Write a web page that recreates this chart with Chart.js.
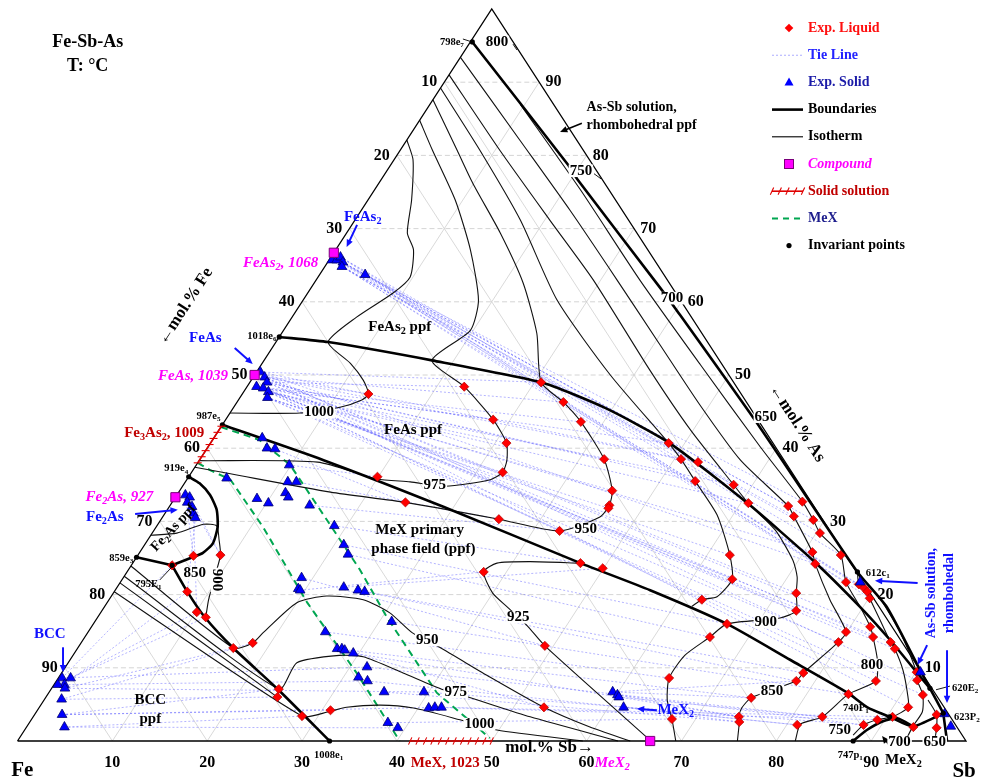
<!DOCTYPE html>
<html>
<head>
<meta charset="utf-8">
<title>Fe-Sb-As liquidus projection</title>
<script src="https://cdn.jsdelivr.net/npm/chart.js@4.4.1/dist/chart.umd.min.js"></script>
<style>
html,body{margin:0;padding:0;background:#ffffff;}
canvas{display:block;}
</style>
</head>
<body>
<canvas id="chart" width="982" height="782"></canvas>
<script>
// Every composition is [Sb, As] in mol.%; Fe is the balance.

const gridTicks = [10, 20, 30, 40, 50, 60, 70, 80, 90];

const expLiquid = [
  [4.3,24.0],[7.7,20.4],[10.1,17.6],[11.4,16.9],[16.4,12.7],[18.1,13.4],[24.0,7.1],[24.4,6.0],[28.3,3.4],[30.9,4.2],
  [5.9,25.3],[8.7,25.4],[19.9,36.1],[32.8,36.7],[24.6,32.6],[35.6,30.3],[42.8,28.7],[47.2,24.3],[49.9,23.6],[37.6,23.1],
  [45.6,34.2],[46.3,32.2],[46.4,31.8],[49.1,13.0],[53.2,4.6],[13.3,47.4],[22.9,48.4],[28.2,43.9],[31.2,40.7],[30.7,49.0],
  [34.4,46.3],[37.6,43.6],[42.6,38.5],[48.3,40.7],[50.7,38.5],[52.7,38.1],[53.7,35.5],[58.0,35.0],[60.8,32.5],[65.2,32.1],
  [66.5,30.7],[66.4,32.7],[68.8,30.2],[70.4,28.4],[70.9,25.8],[72.0,24.2],[74.1,25.4],[76.5,21.7],[78.0,21.4],[78.8,20.9],
  [79.4,20.4],[80.1,19.5],[62.4,25.4],[64.3,22.1],[62.5,19.3],[72.0,20.2],[73.2,17.8],[82.1,15.6],[83.1,14.2],[85.3,13.5],
  [86.2,12.6],[79.9,14.9],[79.8,13.5],[90.1,9.4],[90.7,8.3],[92.3,6.3],[86.4,8.2],[84.4,6.4],[91.6,4.6],[90.6,3.3],
  [89.2,2.9],[88.1,2.2],[83.2,3.3],[81.1,2.2],[78.2,9.3],[78.0,8.2],[74.4,5.9],[74.4,3.3],[74.8,2.6],[67.5,3.0],
  [64.4,8.6],[66.8,16.0],[65.9,14.2],[93.5,1.9],[95.1,3.6],[96.0,1.8]
];

const expSolid = [
  [0.3,65.7],[0.8,65.7],[1.0,66.1],[1.6,65.4],[1.8,64.8],[4.8,63.7],
  [0.4,50.4],[1.2,49.7],[1.0,48.4],[1.8,49.0],[1.8,48.2],[2.6,47.7],[2.9,46.9],
  [0.9,33.6],[1.5,33.3],[1.6,32.6],[2.4,32.0],[3.0,31.1],[3.5,30.5],
  [5.1,41.4],[6.3,40.0],[7.2,39.9],[9.8,37.7],[10.8,35.4],[11.7,35.4],[4.1,35.9],[8.7,33.1],[10.2,32.5],[11.3,33.9],
  [11.9,33.3],[14.7,32.2],[18.7,29.4],[21.0,26.8],[22.1,25.5],[18.8,22.3],[19.2,20.8],[19.5,20.6],[23.9,21.0],[25.6,20.6],
  [26.4,20.4],[31.3,16.3],[25.0,14.9],[27.4,12.6],[27.9,12.6],[28.3,12.4],[29.4,12.0],[31.8,10.1],[31.6,8.7],[32.8,8.2],
  [35.3,6.7],[39.5,6.7],[41.1,4.5],[41.7,4.6],[42.4,4.6],[37.8,2.5],[39.2,1.8],
  [59.4,6.7],[60.1,6.3],[60.4,6.0],[61.6,4.6],
  [0.4,8.6],[1.1,7.7],[0.4,7.7],[1.3,8.6],[1.4,7.2],[1.8,5.7],[2.9,3.6],[4.0,1.9],
  [78.0,21.7],[90.5,9.4],[95.9,3.7],[97.4,2.0]
];

// FeAs2, FeAs, Fe2As, MeX2 (FeSb2)
const compounds = [[0, 66.7], [0, 50.0], [0, 33.3], [66.7, 0]];

// e7, e6, e5, e4, e3, E1, e1, c1, E2, P2, P1, p1
const invariantPoints = [
  [0.2,95.5],[0,55.2],[0,43.2],[0,36.1],[0,25.1],[4.3,24.0],[32.9,0],[77.0,23.1],[92.6,7.2],[95.7,3.8],[90.3,3.3],[88.1,0]
];

// Fe3As2 and MeX homogeneity ranges
const solidSolutions = [[[0, 38.0], [0, 43.0]], [[41.4, 0], [50.0, 0]]];

const boundaries = [
  [[0.2,95.5],[18.6,78.8],[20.8,76.6],[36.7,62.0],[39.7,59.2],[56.9,42.8],[77.0,23.1],[82.5,18.3],[90.3,9.7],[92.6,7.2],[95.7,3.8]],
  [[0,55.2],[5.5,54.5],[17.7,52.0],[30.7,49.0],[39.2,45.5],[48.4,40.7],[60.7,32.5],[71.5,24.7],[79.7,18.3],[85.1,13.8],[90.2,9.3],[92.6,7.2]],
  [[0,43.2],[13.0,38.4],[28.9,32.0],[47.2,24.3],[56.4,20.6],[66.8,16.0],[75.9,11.1],[84.2,6.6],[87.3,4.6],[90.3,3.3],[93.4,2.0],[95.7,3.8]],
  [[0,36.1],[1.6,35.2],[3.5,33.6],[5.2,31.6],[6.5,29.2],[7.1,27.0],[6.7,25.7],[5.9,25.1],[4.3,24.0]],
  [[4.3,24.0],[7.7,20.4],[11.3,16.9],[16.4,12.7],[24.0,7.0],[32.9,0]],
  [[0,25.1],[4.3,24.0]],
  [[88.1,0],[88.8,1.5],[89.9,2.7],[91.2,3.1],[93.4,2.0]],
  [[95.7,3.8],[98.0,0]]
];

const isotherms = [
  [[0,44.8],[7.4,44.8],[11.2,45.6],[13.0,46.6],[13.3,47.4],[11.8,49.3],[9.3,51.6],[5.5,54.5],[6.8,57.9],[9.0,61.2],[9.7,63.4],[8.2,67.1],[6.4,69.4],[4.6,73.9],[2.0,79.4],[0,82.1]],
  [[0,84.8],[3.4,80.7],[9.2,73.9],[14.2,67.1],[18.5,60.2],[19.7,56.1],[17.7,52.0],[22.9,48.4],[28.2,43.9],[31.2,40.7],[32.4,38.4],[32.8,36.7],[32.0,35.7],[27.7,34.8],[23.7,35.4],[20.0,35.8],[12.6,38.1],[0,38.3]],
  [[0,87.6],[6.0,80.7],[9.9,76.2],[16.2,69.4],[22.0,62.6],[26.9,55.7],[30.7,49.0],[34.4,46.3],[37.6,43.6],[42.6,38.5],[45.6,34.2],[46.3,32.2],[46.1,30.6],[42.8,28.7],[35.6,30.3],[24.6,32.6],[16.0,34.0],[4.2,36.5],[0,37.4]],
  [[0,89.2],[8.4,80.7],[17.4,71.2],[26.8,60.2],[37.5,50.0],[48.3,40.7],[50.7,38.5],[53.7,35.5],[58.3,30.9],[62.4,25.4],[64.3,22.1],[63.9,19.7],[62.5,19.3],[61.9,18.4]],
  [[0,91.0],[10.5,80.7],[20.5,71.2],[29.2,63.0],[41.3,50.7],[49.7,42.5],[58.0,35.0],[60.8,32.5],[65.5,28.8],[69.4,24.7],[71.0,22.4],[72.0,20.2],[73.2,17.8],[72.0,16.8],[66.8,16.0],[65.9,14.2],[64.5,11.7],[64.4,8.6],[65.7,5.6],[67.5,3.0],[69.4,0]],
  [[0,93.4],[11.9,82.1],[22.0,72.5],[31.7,63.0],[40.7,54.1],[49.0,45.9],[57.0,38.4],[65.2,32.1],[66.5,30.7],[70.9,25.8],[72.0,24.2],[76.0,19.3],[79.9,14.9],[79.8,13.5],[78.2,9.3],[78.0,8.2],[74.4,5.9],[74.1,4.5],[74.4,3.3],[74.8,2.6],[75.9,0]],
  [[9.6,86.9],[21.7,75.3],[34.1,63.0],[46.3,51.4],[58.2,40.2],[66.4,32.7],[68.8,30.2],[70.4,28.4],[74.1,25.4],[76.5,21.7],[79.7,18.3],[82.1,15.6],[83.1,14.2],[85.1,11.1],[86.4,8.2],[84.4,6.4],[83.2,3.3],[81.4,2.3],[82.0,0]],
  [[0,23.9],[16.4,12.7],[18.1,13.4],[18.5,14.8],[20.0,18.9],[22.7,19.8],[26.8,19.3],[30.5,17.5],[34.2,14.8],[38.1,12.8],[45.5,8.7],[53.2,4.6],[59.4,1.9],[64.6,0]],
  [[0,22.5],[24.0,7.1],[24.1,10.7],[28.1,11.7],[30.7,11.5],[36.0,9.3],[41.4,7.0],[44.8,5.9],[52.4,3.3],[63.3,0]],
  [[0,21.6],[24.4,6.0]],
  [[0,20.4],[28.3,3.4],[30.8,4.0],[32.4,4.6],[35.8,4.9],[39.5,4.5],[45.2,2.9],[49.8,1.5],[59.6,0]],
  [[47.2,24.3],[41.8,24.5],[38.4,24.3],[37.6,23.1],[40.0,20.2],[42.5,18.3],[45.8,15.8],[49.1,13.0],[66.1,0.5]],
  [[0,28.1],[2.6,28.4],[4.8,29.6],[6.3,29.4],[7.5,27.5],[8.7,25.4],[9.5,22.7],[10.5,19.3],[11.4,16.9]],
  [[77.0,23.1],[78.0,21.4],[78.8,20.9],[79.4,20.4],[80.1,19.5],[82.7,16.5],[85.3,13.5],[86.2,12.6],[88.5,9.7],[90.7,6.3],[91.6,4.6],[90.6,3.3],[89.2,2.9],[88.1,2.2],[87.7,0.8]],
  [[81.2,19.5],[85.6,14.9],[90.1,9.4],[90.7,8.3],[92.3,6.3],[93.4,4.0],[93.4,2.0],[93.6,0]],
  [[93.2,5.6],[95.1,3.6],[96.0,1.8],[96.7,0]]
];

// limits of the MeX phase
const mexLimits = [
  [[0,42.9],[5.0,41.1],[9.9,37.7],[16.1,31.6],[24.4,23.4],[30.5,16.9],[40.9,6.6],[49.6,0.4]],
  [[0,38.0],[1.8,37.0],[4.6,35.7],[11.3,29.2],[21.1,18.9],[31.1,9.3],[40.3,0]]
];

const tieLines = [
  // FeAs2 + L
  [[0.8,65.7],[66.4,32.7]],[[1.6,65.4],[68.8,30.2]],[[1.8,64.8],[70.4,28.4]],[[1.0,66.1],[74.1,25.4]],
  [[1.6,65.4],[76.5,21.7]],[[0.8,65.7],[78.0,21.4]],[[1.8,64.8],[78.8,20.9]],[[4.8,63.7],[79.4,20.4]],
  [[1.0,66.1],[80.1,19.5]],[[1.6,65.4],[65.2,32.1]],[[1.8,64.8],[66.5,30.7]],[[0.3,65.7],[72.0,24.2]],
  [[0.3,65.7],[30.7,49.0]],[[1.0,66.1],[48.3,40.7]],[[0.8,65.7],[52.7,38.1]],[[1.6,65.4],[58.0,35.0]],
  [[4.8,63.7],[60.8,32.5]],
  // FeAs + L
  [[1.2,49.7],[13.3,47.4]],[[1.8,49.0],[22.9,48.4]],[[1.8,48.2],[28.2,43.9]],[[2.6,47.7],[31.2,40.7]],
  [[2.9,46.9],[32.8,36.7]],[[0.4,50.4],[30.7,49.0]],[[1.2,49.7],[34.4,46.3]],[[1.0,48.4],[37.6,43.6]],
  [[1.8,49.0],[42.6,38.5]],[[2.6,47.7],[45.6,34.2]],[[2.9,46.9],[46.4,31.8]],[[1.8,48.2],[48.3,40.7]],
  [[1.2,49.7],[50.7,38.5]],[[0.4,50.4],[52.7,38.1]],[[1.8,49.0],[53.7,35.5]],[[1.0,48.4],[58.0,35.0]],
  [[2.6,47.7],[60.8,32.5]],[[2.9,46.9],[62.4,25.4]],[[1.8,48.2],[64.3,22.1]],[[2.6,47.7],[62.5,19.3]],
  [[1.2,49.7],[72.0,20.2]],[[1.8,49.0],[73.2,17.8]],[[1.0,48.4],[70.9,25.8]],[[0.4,50.4],[72.0,24.2]],
  [[1.8,48.2],[79.9,14.9]],[[2.9,46.9],[79.8,13.5]],[[1.2,49.7],[82.1,15.6]],[[1.8,49.0],[83.1,14.2]],
  [[2.6,47.7],[86.4,8.2]],[[1.0,48.4],[85.3,13.5]],[[1.8,48.2],[86.2,12.6]],[[0.4,50.4],[90.7,8.3]],
  [[2.9,46.9],[92.3,6.3]],[[1.2,49.7],[91.6,4.6]],
  // MeX + L
  [[9.8,37.7],[19.9,36.1]],[[7.2,39.9],[24.6,32.6]],[[11.7,35.4],[35.6,30.3]],[[14.7,32.2],[42.8,28.7]],
  [[18.7,29.4],[47.2,24.3]],[[21.0,26.8],[66.8,16.0]],[[22.1,25.5],[65.9,14.2]],[[25.0,14.9],[64.4,8.6]],
  [[25.6,20.6],[78.2,9.3]],[[26.4,20.4],[78.0,8.2]],[[31.3,16.3],[84.4,6.4]],[[18.8,22.3],[49.1,13.0]],
  [[19.5,20.6],[37.6,23.1]],[[27.4,12.6],[74.4,5.9]],[[28.3,12.4],[53.2,4.6]],[[29.4,12.0],[74.4,3.3]],
  [[31.8,10.1],[83.2,3.3]],[[32.8,8.2],[81.1,2.2]],[[35.3,6.7],[74.8,2.6]],[[39.5,6.7],[88.1,2.2]],
  [[41.7,4.6],[89.2,2.9]],[[42.4,4.6],[90.6,3.3]],[[37.8,2.5],[67.5,3.0]],[[23.9,21.0],[49.9,23.6]],
  // BCC + L, BCC + MeX
  [[0.4,8.6],[4.3,24.0]],[[1.1,7.7],[7.7,20.4]],[[0.4,7.7],[10.1,17.6]],[[1.3,8.6],[11.4,16.9]],
  [[1.4,7.2],[16.4,12.7]],[[1.8,5.7],[18.1,13.4]],[[2.9,3.6],[24.0,7.1]],[[1.8,5.7],[24.4,6.0]],
  [[4.0,1.9],[28.3,3.4]],[[2.9,3.6],[30.9,4.2]],[[1.4,7.2],[39.5,6.7]],[[4.0,1.9],[39.2,1.8]],
  [[2.9,3.6],[42.4,4.6]],[[1.1,7.7],[32.8,8.2]],[[0.4,8.6],[31.8,10.1]],
  // Fe2As + L
  [[0.9,33.6],[5.9,25.3]],[[1.5,33.3],[8.7,25.4]],[[2.4,32.0],[8.7,25.4]],[[3.0,31.1],[10.1,17.6]],[[3.5,30.5],[7.7,20.4]],
  // MeX2 + L
  [[59.4,6.7],[74.4,5.9]],[[60.1,6.3],[74.4,3.3]],[[60.4,6.0],[83.2,3.3]],[[61.6,4.6],[81.1,2.2]],
  [[60.1,6.3],[88.1,2.2]],[[59.4,6.7],[78.0,8.2]],[[61.6,4.6],[74.8,2.6]]
];

// ternary composition -> plane (x = Sb + As/2, y = As)
const toPlane = ([sb, as]) => ({ x: sb + as / 2, y: as });

const SERIF = "'Liberation Serif','Times New Roman',serif";
const MAG = '#ff00ff', BLUE = '#1010ff', DRED = '#c00000';

// text annotations, positioned in plane units (u along the Fe-Sb side, a = As)
const annotations = [
  {t:'Fe-Sb-As', u:7.4, a:95.5, s:18},
  {t:'T: °C', u:7.4, a:92.2, s:18},
  {t:'Fe', u:0.5, a:-4.0, s:21},
  {t:'Sb', u:99.8, a:-4.2, s:21},
  {t:'mol.% Sb→', u:56.1, a:-0.9, s:17},
  {t:'←mol.% Fe', u:17.7, a:59.4, s:17, r:-57},
  {t:'←mol.% As', u:82.2, a:43.4, s:17, r:57},
  {t:'As-Sb solution,', u:60.0, a:86.6, s:14, al:'left'},
  {t:'rhombohedral ppf', u:60.0, a:84.1, s:14, al:'left'},
  {t:'FeAs_2 ppf', u:40.3, a:56.6, s:15},
  {t:'FeAs ppf', u:41.7, a:42.5, s:15},
  {t:'MeX primary', u:42.4, a:28.8, s:15},
  {t:'phase field (ppf)', u:42.8, a:26.2, s:15},
  {t:'BCC', u:14.0, a:5.6, s:15},
  {t:'ppf', u:14.0, a:3.0, s:15},
  {t:'Fe_2As ppf', u:16.45, a:29.1, s:14, r:-47},
  {t:'FeAs_2, 1068', u:31.7, a:65.3, s:15, al:'right', c:MAG, it:true},
  {t:'FeAs, 1039', u:22.2, a:49.9, s:15, al:'right', c:MAG, it:true},
  {t:'Fe_2As, 927', u:14.3, a:33.3, s:15, al:'right', c:MAG, it:true},
  {t:'MeX_2', u:62.7, a:-3.0, s:15, c:MAG, it:true},
  {t:'Fe_3As_2, 1009', u:19.7, a:42.1, s:15, al:'right', c:DRED},
  {t:'MeX, 1023', u:45.1, a:-3.0, s:15, c:DRED},
  {t:'FeAs_2', u:36.4, a:71.6, s:15, c:BLUE},
  {t:'FeAs', u:19.8, a:55.05, s:15, c:BLUE},
  {t:'Fe_2As', u:9.2, a:30.6, s:15, c:BLUE},
  {t:'BCC', u:3.4, a:14.6, s:15, c:BLUE},
  {t:'MeX_2', u:69.4, a:4.2, s:15, c:BLUE},
  {t:'As-Sb solution,', u:96.4, a:20.2, s:14, r:-90, c:BLUE},
  {t:'rhombohedal', u:98.3, a:20.2, s:14, r:-90, c:BLUE},
  {t:'798e_7', u:45.8, a:95.5, s:10.5},
  {t:'1018e_6', u:27.3, a:55.3, s:10.5, al:'right'},
  {t:'987e_5', u:21.4, a:44.4, s:10.5, al:'right'},
  {t:'919e_4', u:18.0, a:37.2, s:10.5, al:'right'},
  {t:'859e_3', u:12.2, a:25.0, s:10.5, al:'right'},
  {t:'795E_1', u:13.8, a:21.45, s:10.5},
  {t:'1008e_1', u:32.8, a:-1.9, s:10.5},
  {t:'612c_1', u:90.7, a:22.95, s:10.5},
  {t:'620E_2', u:99.9, a:7.2, s:10.5},
  {t:'623P_2', u:100.1, a:3.3, s:10.5},
  {t:'740P_1', u:88.4, a:4.5, s:10.5},
  {t:'747p_1', u:87.8, a:-1.9, s:10.5},
  {t:'MeX_2', u:93.4, a:-2.6, s:15},
  {t:'800', u:50.55, a:95.5, s:15, bg:true},
  {t:'750', u:59.4, a:77.9, s:15, bg:true},
  {t:'700', u:69.0, a:60.5, s:15, bg:true},
  {t:'650', u:78.9, a:44.3, s:15, bg:true},
  {t:'1000', u:31.8, a:44.9, s:15, bg:true},
  {t:'975', u:44.0, a:35.0, s:15, bg:true},
  {t:'950', u:59.9, a:29.0, s:15, bg:true},
  {t:'925', u:52.8, a:16.9, s:15, bg:true},
  {t:'950', u:43.2, a:13.8, s:15, bg:true},
  {t:'975', u:46.2, a:6.7, s:15, bg:true},
  {t:'1000', u:48.7, a:2.3, s:15, bg:true},
  {t:'900', u:78.9, a:16.3, s:15, bg:true},
  {t:'850', u:79.55, a:6.8, s:15, bg:true},
  {t:'800', u:90.1, a:10.4, s:15, bg:true},
  {t:'750', u:86.7, a:1.5, s:15, bg:true},
  {t:'700', u:93.0, a:-0.15, s:15, bg:true},
  {t:'650', u:96.7, a:-0.15, s:15, bg:true},
  {t:'850', u:18.7, a:22.95, s:15, bg:true},
  {t:'900', u:21.0, a:22.0, s:15, r:90, bg:true}
];

const leaders = [
  [[46.96,95.9],[47.92,95.5]], [[52.24,95.2],[52.66,94.4]], [[60.78,77.5],[61.52,76.8]],
  [[90.09,4.2],[91.36,3.7]], [[98.31,7.5],[96.84,7.0]], [[15.0,22.0],[16.3,23.8]]
];

const arrows = [
  {from:[59.5,84.4], to:[57.2,83.2], c:'#000', w:1.6},
  {from:[35.8,70.5], to:[34.7,67.5], c:BLUE, w:2},
  {from:[22.9,53.7], to:[24.8,51.5], c:BLUE, w:2},
  {from:[12.4,31.0], to:[16.9,31.6], c:BLUE, w:2},
  {from:[4.8,12.8], to:[4.8,9.4], c:BLUE, w:2},
  {from:[67.4,4.2], to:[65.3,4.4], c:BLUE, w:2},
  {from:[94.9,21.6], to:[90.4,21.9], c:BLUE, w:2},
  {from:[95.9,13.1], to:[94.9,10.4], c:BLUE, w:2},
  {from:[98.0,12.4], to:[98.0,5.2], c:BLUE, w:2},
  {from:[91.9,-0.55], to:[91.15,0.7], c:'#000', w:1.6}
];

// hatch stroke angle (degrees, screen space) for each solid-solution range
const hatchAngles = [0, -65];

// ---------- datasets ----------
function lineSet(pts, color, width, dash, tension, order) {
  return {
    data: pts.map(toPlane), showLine: true, pointRadius: 0, pointHoverRadius: 0,
    borderColor: color, backgroundColor: color, borderWidth: width, borderDash: dash,
    tension: tension, fill: false, clip: false, order: order
  };
}

const datasets = [];

// composition grid
gridTicks.forEach(v => {
  datasets.push(lineSet([[0, v], [100 - v, v]], '#c9c9c9', 0.8, [5, 3], 0, 20));
  datasets.push(lineSet([[v, 0], [v, 100 - v]], '#cfcfcf', 0.8, [], 0, 20));
  datasets.push(lineSet([[100 - v, 0], [0, 100 - v]], '#cfcfcf', 0.8, [], 0, 20));
});

tieLines.forEach(tl => datasets.push(lineSet(tl, 'rgba(85,85,255,0.55)', 0.8, [2, 2], 0, 18)));
mexLimits.forEach(l => datasets.push(lineSet(l, '#00a651', 2, [7, 5], 0, 16)));
isotherms.forEach(l => datasets.push(lineSet(l, '#111', 1.1, [], 0.22, 14)));
boundaries.forEach(l => datasets.push(lineSet(l, '#000', 2.6, [], 0.2, 12)));
datasets.push(lineSet([[0, 0], [100, 0], [0, 100], [0, 0]], '#000', 1.3, [], 0, 11));

datasets.push({
  data: expLiquid.map(toPlane), pointStyle: 'rectRot', pointRadius: 4.6,
  backgroundColor: '#ff0000', borderColor: '#b00000', borderWidth: 0.7, clip: false, order: 4
});
datasets.push({
  data: expSolid.map(toPlane), pointStyle: 'triangle', pointRadius: 5.6,
  backgroundColor: '#0000ff', borderColor: '#000070', borderWidth: 0.8, clip: false, order: 3
});
datasets.push({
  data: compounds.map(toPlane), pointStyle: 'rect', pointRadius: 6.5,
  backgroundColor: '#ff00ff', borderColor: '#7a007a', borderWidth: 1, clip: false, order: 2
});
datasets.push({
  data: invariantPoints.map(toPlane), pointStyle: 'circle', pointRadius: 2.6,
  backgroundColor: '#000', borderColor: '#000', borderWidth: 0, clip: false, order: 1
});

// ---------- drawing helpers ----------
function parseRich(t) {
  const parts = []; let buf = '';
  for (let i = 0; i < t.length; i++) {
    if (t[i] === '_' && i + 1 < t.length) {
      if (buf) parts.push({ s: buf, sub: false });
      buf = ''; parts.push({ s: t[i + 1], sub: true }); i++;
    } else buf += t[i];
  }
  if (buf) parts.push({ s: buf, sub: false });
  return parts;
}

function drawRich(ctx, o, x, y) {
  const size = o.s || 15;
  const style = (o.it ? 'italic ' : '') + 'bold ';
  const font = sz => style + sz + 'px ' + SERIF;
  const parts = parseRich(o.t);
  let w = 0;
  parts.forEach(p => { ctx.font = font(p.sub ? size * 0.68 : size); p.w = ctx.measureText(p.s).width; w += p.w; });
  ctx.save();
  ctx.translate(x, y);
  if (o.r) ctx.rotate(o.r * Math.PI / 180);
  let x0 = o.al === 'left' ? 0 : o.al === 'right' ? -w : -w / 2;
  ctx.textBaseline = 'middle';
  ctx.textAlign = 'left';
  if (o.bg) { ctx.fillStyle = '#ffffff'; ctx.fillRect(x0 - 1, -size * 0.42, w + 2, size * 0.84); }
  ctx.fillStyle = o.c || '#000';
  parts.forEach(p => {
    ctx.font = font(p.sub ? size * 0.68 : size);
    ctx.fillText(p.s, x0, p.sub ? size * 0.3 : 0);
    x0 += p.w;
  });
  ctx.restore();
}

function drawArrow(ctx, x1, y1, x2, y2, color, width) {
  const ang = Math.atan2(y2 - y1, x2 - x1), head = 8;
  ctx.save();
  ctx.strokeStyle = color; ctx.fillStyle = color; ctx.lineWidth = width; ctx.setLineDash([]);
  ctx.beginPath(); ctx.moveTo(x1, y1);
  ctx.lineTo(x2 - Math.cos(ang) * head * 0.6, y2 - Math.sin(ang) * head * 0.6); ctx.stroke();
  ctx.beginPath(); ctx.moveTo(x2, y2);
  ctx.lineTo(x2 - head * Math.cos(ang - 0.42), y2 - head * Math.sin(ang - 0.42));
  ctx.lineTo(x2 - head * Math.cos(ang + 0.42), y2 - head * Math.sin(ang + 0.42));
  ctx.closePath(); ctx.fill();
  ctx.restore();
}

function drawHatch(ctx, x1, y1, x2, y2, tickDeg, color) {
  ctx.save();
  ctx.strokeStyle = color; ctx.lineWidth = 1.6; ctx.setLineDash([]);
  ctx.beginPath(); ctx.moveTo(x1, y1); ctx.lineTo(x2, y2); ctx.stroke();
  const len = Math.hypot(x2 - x1, y2 - y1), n = Math.max(2, Math.round(len / 7.5));
  const ta = tickDeg * Math.PI / 180, dx = Math.cos(ta) * 4, dy = Math.sin(ta) * 4;
  ctx.lineWidth = 1.1;
  for (let i = 0; i <= n; i++) {
    const px = x1 + (x2 - x1) * i / n, py = y1 + (y2 - y1) * i / n;
    ctx.beginPath(); ctx.moveTo(px - dx, py - dy); ctx.lineTo(px + dx, py + dy); ctx.stroke();
  }
  ctx.restore();
}

const legendItems = [
  { label: 'Exp. Liquid', color: '#ff1010', kind: 'diamond' },
  { label: 'Tie Line', color: '#2323ff', kind: 'tie' },
  { label: 'Exp. Solid', color: '#1c1ca8', kind: 'triangle' },
  { label: 'Boundaries', color: '#000', kind: 'thick' },
  { label: 'Isotherm', color: '#000', kind: 'thin' },
  { label: 'Compound', color: '#ff00ff', kind: 'square', it: true },
  { label: 'Solid solution', color: '#c00000', kind: 'hatch' },
  { label: 'MeX', color: '#1c1c8c', kind: 'dash' },
  { label: 'Invariant points', color: '#000', kind: 'dot' }
];

function drawLegend(ctx) {
  const x0 = 775, x1 = 803, xm = 789;
  legendItems.forEach((it, i) => {
    const y = 28 + i * 27.2;
    ctx.save();
    ctx.setLineDash([]);
    if (it.kind === 'diamond') {
      ctx.fillStyle = '#ff0000';
      ctx.beginPath(); ctx.moveTo(xm, y - 4.3); ctx.lineTo(xm + 4.3, y); ctx.lineTo(xm, y + 4.3); ctx.lineTo(xm - 4.3, y); ctx.closePath(); ctx.fill();
    } else if (it.kind === 'tie') {
      ctx.strokeStyle = 'rgba(85,85,255,0.6)'; ctx.lineWidth = 0.8; ctx.setLineDash([2, 2]);
      ctx.beginPath(); ctx.moveTo(x0 - 3, y); ctx.lineTo(x1, y); ctx.stroke();
    } else if (it.kind === 'triangle') {
      ctx.fillStyle = '#0000ff';
      ctx.beginPath(); ctx.moveTo(xm, y - 5); ctx.lineTo(xm + 4.5, y + 3.2); ctx.lineTo(xm - 4.5, y + 3.2); ctx.closePath(); ctx.fill();
    } else if (it.kind === 'thick' || it.kind === 'thin') {
      ctx.strokeStyle = '#000'; ctx.lineWidth = it.kind === 'thick' ? 2.6 : 1.1;
      ctx.beginPath(); ctx.moveTo(x0 - 3, y); ctx.lineTo(x1, y); ctx.stroke();
    } else if (it.kind === 'square') {
      ctx.fillStyle = '#ff00ff'; ctx.strokeStyle = '#7a007a'; ctx.lineWidth = 1;
      ctx.fillRect(xm - 4.5, y - 4.5, 9, 9); ctx.strokeRect(xm - 4.5, y - 4.5, 9, 9);
    } else if (it.kind === 'hatch') {
      drawHatch(ctx, x0 - 3, y, x1, y, -65, '#e00000');
    } else if (it.kind === 'dash') {
      ctx.strokeStyle = '#00a651'; ctx.lineWidth = 2; ctx.setLineDash([6, 5]);
      ctx.beginPath(); ctx.moveTo(x0 - 3, y); ctx.lineTo(x1, y); ctx.stroke();
    } else if (it.kind === 'dot') {
      ctx.fillStyle = '#000'; ctx.beginPath(); ctx.arc(xm, y, 2.6, 0, Math.PI * 2); ctx.fill();
    }
    ctx.restore();
    drawRich(ctx, { t: it.label, s: 14, c: it.color, it: it.it, al: 'left' }, 808, y);
  });
}

const decorPlugin = {
  id: 'ternaryDecor',
  afterDatasetsDraw(chart) {
    const ctx = chart.ctx, xs = chart.scales.x, ys = chart.scales.y;
    const px = (u, a) => [xs.getPixelForValue(u), ys.getPixelForValue(a)];
    const cp = c => { const p = toPlane(c); return px(p.x, p.y); };

    solidSolutions.forEach((ss, i) => {
      const [a1, b1] = cp(ss[0]), [a2, b2] = cp(ss[1]);
      drawHatch(ctx, a1, b1, a2, b2, hatchAngles[i], '#e00000');
    });

    ctx.save();
    ctx.strokeStyle = '#000'; ctx.lineWidth = 0.9; ctx.setLineDash([]);
    leaders.forEach(([p, q]) => {
      const [x1, y1] = px(p[0], p[1]), [x2, y2] = px(q[0], q[1]);
      ctx.beginPath(); ctx.moveTo(x1, y1); ctx.lineTo(x2, y2); ctx.stroke();
    });
    ctx.restore();

    arrows.forEach(ar => {
      const [x1, y1] = px(ar.from[0], ar.from[1]), [x2, y2] = px(ar.to[0], ar.to[1]);
      drawArrow(ctx, x1, y1, x2, y2, ar.c, ar.w);
    });

    // tick labels on the three sides
    gridTicks.forEach(v => {
      let [x, y] = px(v, -3.0);
      drawRich(ctx, { t: String(v), s: 16 }, x, y);
      [x, y] = px((100 - v) / 2 - 1.6, 100 - v);
      drawRich(ctx, { t: String(v), s: 16 }, x, y);
      [x, y] = px(100 - v / 2 + 1.5, v);
      drawRich(ctx, { t: String(v), s: 16 }, x, y);
    });

    annotations.forEach(o => {
      const [x, y] = px(o.u, o.a);
      drawRich(ctx, o, x, y);
    });

    drawLegend(ctx);
  }
};

new Chart(document.getElementById('chart'), {
  type: 'scatter',
  data: { datasets },
  options: {
    responsive: false,
    animation: false,
    devicePixelRatio: 1,
    events: [],
    layout: { padding: { left: 17.5, right: 16, top: 9, bottom: 41 } },
    scales: {
      x: { type: 'linear', min: 0, max: 100, display: false },
      y: { type: 'linear', min: 0, max: 100, display: false }
    },
    plugins: { legend: { display: false }, tooltip: { enabled: false }, colors: { enabled: false } }
  },
  plugins: [decorPlugin]
});
</script>
</body>
</html>
